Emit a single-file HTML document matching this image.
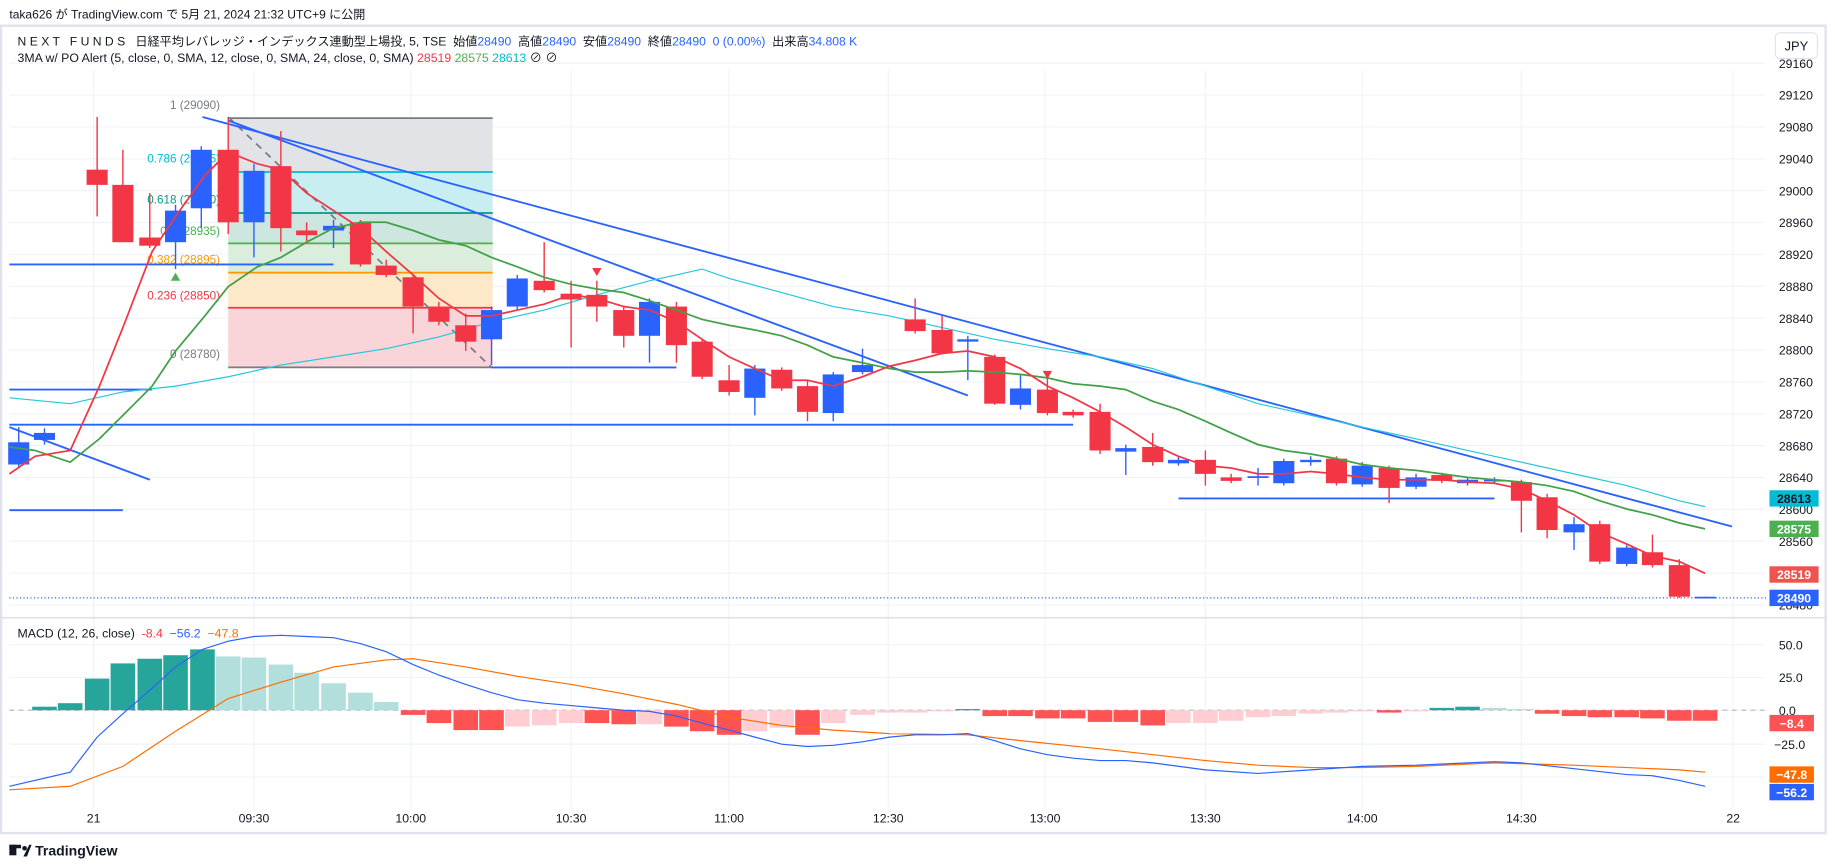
<!DOCTYPE html>
<html><head><meta charset="utf-8"><style>
html,body{margin:0;padding:0;background:#fff;}
svg{display:block;font-family:"Liberation Sans","Noto Sans CJK JP",sans-serif;}
</style></head><body>
<svg id="s" width="1835" height="867" viewBox="0 0 1568 741" preserveAspectRatio="none" xmlns="http://www.w3.org/2000/svg">
<rect width="1568" height="741" fill="#fff"/>
<text x="8" y="16" font-size="10.3" fill="#131722">taka626 が TradingView.com で 5月 21, 2024 21:32 UTC+9 に公開</text>
<rect x="1" y="22" width="1559" height="690" fill="none" stroke="#e0e3eb" stroke-width="2"/>
<g id="grid" stroke="#f0f3fa" stroke-width="1"></g>
<line x1="1" y1="528" x2="1560" y2="528" stroke="#e0e3eb" stroke-width="1.5"/>
<text x="15" y="39" font-size="10.4" fill="#131722">N E X T &#160; F U N D S &#160; 日経平均レバレッジ・インデックス連動型上場投, 5, TSE &#160;始値<tspan fill="#2962ff">28490</tspan> &#160;高値<tspan fill="#2962ff">28490</tspan> &#160;安値<tspan fill="#2962ff">28490</tspan> &#160;終値<tspan fill="#2962ff">28490 &#160;0 (0.00%)</tspan> &#160;出来高<tspan fill="#2962ff">34.808 K</tspan></text>
<text x="15" y="53" font-size="10.5" fill="#131722">3MA w/ PO Alert (5, close, 0, SMA, 12, close, 0, SMA, 24, close, 0, SMA) <tspan fill="#f23645">28519</tspan> <tspan fill="#4caf50">28575</tspan> <tspan fill="#00bcd4">28613</tspan> ⊘ ⊘</text>
<rect x="1517" y="28" width="36" height="22" rx="4" fill="#fff" stroke="#e0e3eb"/>
<text x="1535" y="43" font-size="11" text-anchor="middle" fill="#131722">JPY</text>
<rect x="195" y="101" width="226" height="46" fill="#e2e3e6"/>
<rect x="195" y="147" width="226" height="35" fill="#c9eef2"/>
<rect x="195" y="182" width="226" height="26" fill="#cde6e0"/>
<rect x="195" y="208" width="226" height="25" fill="#dbeedb"/>
<rect x="195" y="233" width="226" height="30" fill="#fde8c9"/>
<rect x="195" y="263" width="226" height="51" fill="#f9d5d9"/>
<g stroke-width="1.5">
<line x1="195" y1="101" x2="421" y2="101" stroke="#787b86"/>
<line x1="195" y1="147" x2="421" y2="147" stroke="#00bcd4"/>
<line x1="195" y1="182" x2="421" y2="182" stroke="#089981"/>
<line x1="195" y1="208" x2="421" y2="208" stroke="#4caf50"/>
<line x1="195" y1="233" x2="421" y2="233" stroke="#ff9800"/>
<line x1="195" y1="263" x2="421" y2="263" stroke="#f23645"/>
<line x1="195" y1="314" x2="421" y2="314" stroke="#787b86"/>
</g>
<g font-size="10" text-anchor="end">
<text x="188" y="93" fill="#787b86">1 (29090)</text>
<text x="188" y="139" fill="#00bcd4">0.786 (29015)</text>
<text x="188" y="174" fill="#089981">0.618 (28960)</text>
<text x="188" y="201" fill="#4caf50">0.5 (28935)</text>
<text x="188" y="225" fill="#ff9800">0.382 (28895)</text>
<text x="188" y="256" fill="#f23645">0.236 (28850)</text>
<text x="188" y="306" fill="#787b86">0 (28780)</text>
</g>
<line x1="195" y1="100" x2="420" y2="314" stroke="#787b86" stroke-width="1.5" stroke-dasharray="6,5"/>
<g stroke="#2962ff" stroke-width="1.6">
<line x1="173" y1="100" x2="1480" y2="450"/>
<line x1="195" y1="103" x2="827" y2="338"/>
<line x1="8" y1="226" x2="285" y2="226"/>
<line x1="420" y1="314" x2="578" y2="314"/>
<line x1="8" y1="333" x2="130" y2="333"/>
<line x1="8" y1="363" x2="917" y2="363"/>
<line x1="8" y1="436" x2="105" y2="436"/>
<line x1="1007" y1="426" x2="1277" y2="426"/>
<line x1="8" y1="365" x2="128" y2="410"/>
</g>
<line x1="8" y1="511" x2="1510" y2="511" stroke="#2962ff" stroke-dasharray="1,2"/>
<polyline fill="none" stroke="#26c6da" stroke-width="1" points="8,340 60,345 105,335 150,330 195,322 240,312 285,305 330,298 375,288 420,275 465,265 510,252 555,240 578,235 600,230 623,238 668,250 712,262 760,270 805,280 850,290 895,298 940,305 985,315 1030,330 1075,345 1120,355 1164,365 1210,375 1254,385 1300,395 1345,405 1390,415 1435,428 1457,433"/>
<g id="candles"></g>
<polyline fill="none" stroke="#43a047" stroke-width="1.5" points="8,382 30,385 60,395 85,375 105,355 130,330 150,300 175,270 195,245 220,228 240,220 262,207 285,195 308,190 330,190 353,197 375,205 398,210 420,220 442,228 465,237 488,243 510,247 533,250 555,257 578,265 600,273 623,278 645,282 668,287 690,295 712,305 737,310 760,315 782,318 805,318 827,317 850,318 872,320 895,323 917,328 940,330 962,333 985,343 1007,350 1030,360 1052,370 1075,380 1097,385 1120,388 1142,392 1164,397 1187,400 1210,402 1232,405 1254,408 1277,410 1300,412 1322,415 1345,420 1367,428 1390,435 1412,440 1435,447 1457,452"/>
<polyline fill="none" stroke="#f23645" stroke-width="1.5" points="8,405 30,390 60,385 85,330 105,280 130,215 150,185 175,150 195,130 220,140 240,145 262,165 285,180 308,195 330,215 353,235 375,255 398,270 420,270 442,265 465,260 488,252 510,255 533,262 555,265 578,275 600,290 623,305 645,315 668,325 690,325 712,330 737,322 760,313 782,308 805,302 827,300 850,305 872,315 895,330 917,340 940,352 962,365 985,380 1007,390 1030,398 1052,400 1075,405 1097,405 1120,403 1142,405 1164,408 1187,410 1210,410 1232,410 1254,412 1277,413 1300,418 1322,428 1345,440 1367,455 1390,465 1412,475 1435,480 1457,490"/>
<polygon points="146,240 154,240 150,233" fill="#4caf50"/>
<polygon points="506,229 514,229 510,236" fill="#f23645"/>
<polygon points="891,317 899,317 895,324" fill="#f23645"/>
<g id="pax" font-size="10.5" fill="#131722"></g>
<g font-size="10.5" font-weight="bold" fill="#fff" text-anchor="middle">
<rect x="1512" y="419" width="42" height="14" fill="#00bcd4"/><text x="1533" y="430" fill="#131722">28613</text>
<rect x="1512" y="445" width="42" height="14" fill="#4caf50"/><text x="1533" y="456">28575</text>
<rect x="1512" y="484" width="42" height="14" fill="#ef5350"/><text x="1533" y="495">28519</text>
<rect x="1512" y="504" width="42" height="14" fill="#2962ff"/><text x="1533" y="515">28490</text>
</g>
<text x="15" y="545" font-size="10.5" fill="#131722">MACD (12, 26, close) &#160;<tspan fill="#f23645">-8.4</tspan> &#160;<tspan fill="#2962ff">−56.2</tspan> &#160;<tspan fill="#ff6d00">−47.8</tspan></text>
<line x1="8" y1="607" x2="1510" y2="607" stroke="#b2b5be" stroke-dasharray="4,4"/>
<g id="hist"></g>
<polyline fill="none" stroke="#ff6d00" stroke-width="1" points="8,675 60,672 105,655 150,625 195,597 240,583 285,570 330,564 353,563 398,570 442,578 488,585 533,593 578,602 623,613 668,620 712,624 760,627 827,628 872,633 940,640 985,645 1030,650 1075,654 1120,656 1164,656 1210,655 1277,652 1345,654 1390,656 1435,658 1457,660"/>
<polyline fill="none" stroke="#2962ff" stroke-width="1" points="8,672 60,660 83,630 105,610 128,590 150,570 173,555 195,548 217,544 240,543 262,544 285,545 308,550 330,557 353,568 375,577 398,585 420,592 442,598 465,601 488,603 510,605 533,607 555,608 578,612 600,618 623,624 645,630 668,636 690,638 712,637 737,634 760,630 782,628 805,628 827,627 850,633 872,640 895,645 917,648 940,650 962,650 985,652 1030,658 1075,661 1120,658 1164,655 1210,654 1254,652 1277,651 1300,652 1345,657 1390,662 1412,663 1435,667 1457,672"/>
<g font-size="10.5" fill="#131722">
<text x="1520" y="555">50.0</text><text x="1520" y="583">25.0</text><text x="1520" y="611">0.0</text><text x="1516" y="640">−25.0</text>
</g>
<g font-size="10.5" font-weight="bold" fill="#fff" text-anchor="middle">
<rect x="1512" y="611" width="38" height="14" fill="#ff5252"/><text x="1531" y="622">−8.4</text>
<rect x="1512" y="655" width="38" height="14" fill="#ff6d00"/><text x="1531" y="666">−47.8</text>
<rect x="1512" y="670" width="38" height="14" fill="#2962ff"/><text x="1531" y="681">−56.2</text>
</g>
<g font-size="10.5" fill="#131722" text-anchor="middle">
<text x="80" y="703">21</text><text x="217" y="703">09:30</text><text x="351" y="703">10:00</text><text x="488" y="703">10:30</text><text x="623" y="703">11:00</text><text x="759" y="703">12:30</text><text x="893" y="703">13:00</text><text x="1030" y="703">13:30</text><text x="1164" y="703">14:00</text><text x="1300" y="703">14:30</text><text x="1481" y="703">22</text>
</g>
<g transform="translate(8,720)"><rect x="0" y="2" width="6" height="9" fill="#131722"/><rect x="0" y="2" width="10" height="3" fill="#131722"/><circle cx="13" cy="5" r="2" fill="#131722"/><polygon points="12,12 17,2 19,2 15,12" fill="#131722"/></g>
<text x="30" y="731" font-size="12" font-weight="bold" fill="#131722">TradingView</text>
</svg>
<script>
var NS="http://www.w3.org/2000/svg";
function el(p,t,a){var e=document.createElementNS(NS,t);for(var k in a)e.setAttribute(k,a[k]);p.appendChild(e);return e;}
var g=document.getElementById('grid');
[80,217,351,488,623,759,893,1030,1164,1300,1481].forEach(function(x){el(g,'line',{x1:x,y1:60,x2:x,y2:690});});
var pax=document.getElementById('pax');
for(var p=29160;p>=28480;p-=40){var y=54+(29160-p)*0.681;el(g,'line',{x1:8,y1:y,x2:1508,y2:y});var t=el(pax,'text',{x:1520,y:y+4});t.textContent=p;}
[551,579,607,636,664].forEach(function(y){el(g,'line',{x1:8,y1:y,x2:1508,y2:y});});
var C=[[16,'b',378,397,365,400],[38,'b',370,376,366,380],[83,'r',145,158,100,185],[105,'r',158,207,128,207],[128,'r',203,210,165,212],[150,'b',180,207,175,230],[172,'b',128,178,125,195],[195,'r',128,190,100,200],[217,'b',146,190,140,220],[240,'r',142,195,112,215],[262,'r',197,201,190,206],[285,'b',193,197,188,212],[308,'r',190,226,188,228],[330,'r',227,235,222,237],[353,'r',237,262,235,285],[375,'r',262,275,258,278],[398,'r',278,292,268,300],[420,'b',265,290,262,312],[442,'b',238,262,235,265],[465,'r',240,248,207,250],[488,'r',251,256,240,297],[510,'r',252,262,240,275],[533,'r',265,287,262,297],[555,'b',258,287,255,310],[578,'r',262,295,258,310],[600,'r',292,322,290,324],[623,'r',325,335,312,338],[645,'b',315,340,312,355],[668,'r',316,332,314,334],[690,'r',330,352,325,360],[712,'b',320,353,318,360],[737,'b',312,318,298,320],[782,'r',273,283,255,285],[805,'r',282,302,270,303],[827,'b',290,292,287,325],[850,'r',305,345,303,346],[872,'b',332,346,320,350],[895,'r',333,353,320,355],[917,'r',352,355,350,357],[940,'r',352,385,345,388],[962,'b',383,386,380,406],[985,'r',382,395,370,398],[1007,'b',393,396,390,398],[1030,'r',393,405,385,415],[1052,'r',408,411,405,413],[1075,'b',407,408,400,415],[1097,'b',394,413,392,415],[1120,'b',393,395,390,398],[1142,'r',392,413,390,415],[1164,'b',398,414,395,416],[1187,'r',400,417,398,430],[1210,'b',408,416,405,418],[1232,'r',406,411,404,413],[1254,'b',410,413,408,415],[1277,'b',410,411,408,413],[1300,'r',412,428,410,455],[1322,'r',425,453,422,460],[1345,'b',448,455,442,470],[1367,'r',448,480,445,482],[1390,'b',468,482,466,484],[1412,'r',472,483,457,485],[1435,'r',483,510,478,511],[1457,'b',510,511,510,511]];
var cg=document.getElementById('candles');
C.forEach(function(c){var col=c[1]=='r'?'#f23645':'#2962ff';el(cg,'line',{x1:c[0],y1:c[4],x2:c[0],y2:c[5],stroke:col,'stroke-width':1.2});el(cg,'rect',{x:c[0]-9,y:c[2],width:18,height:Math.max(1.5,c[3]-c[2]),fill:col});});
var H=[[38,604,'T'],[60,601,'T'],[83,580,'T'],[105,567,'T'],[128,563,'T'],[150,560,'T'],[173,555,'T'],[195,561,'t'],[217,562,'t'],[240,568,'t'],[262,575,'t'],[285,584,'t'],[308,592,'t'],[330,600,'t'],[353,611,'R'],[375,618,'R'],[398,624,'R'],[420,624,'R'],[442,621,'p'],[465,620,'p'],[488,618,'p'],[510,618,'R'],[533,619,'R'],[555,619,'p'],[578,621,'R'],[600,625,'R'],[623,628,'R'],[645,625,'p'],[668,622,'p'],[690,628,'R'],[712,618,'p'],[737,611,'p'],[760,609,'p'],[782,609,'p'],[805,608,'p'],[827,606,'T'],[850,612,'R'],[872,612,'R'],[895,614,'R'],[917,614,'R'],[940,617,'R'],[962,617,'R'],[985,620,'R'],[1007,618,'p'],[1030,618,'p'],[1052,616,'p'],[1075,613,'p'],[1097,612,'p'],[1120,610,'p'],[1142,609,'p'],[1164,608,'p'],[1187,609,'R'],[1210,608,'p'],[1232,605,'T'],[1254,604,'T'],[1277,605,'t'],[1300,606,'t'],[1322,610,'R'],[1345,612,'R'],[1367,613,'R'],[1390,613,'R'],[1412,614,'R'],[1435,616,'R'],[1457,616,'R']];
var hg=document.getElementById('hist');var cm={T:'#26a69a',t:'#b2dfdb',R:'#ff5252',p:'#ffcdd2'};
H.forEach(function(h){var y1=Math.min(h[1],607),y2=Math.max(h[1],607);el(hg,'rect',{x:h[0]-10.5,y:y1,width:21,height:Math.max(1,y2-y1),fill:cm[h[2]]});});
</script>
</body></html>
